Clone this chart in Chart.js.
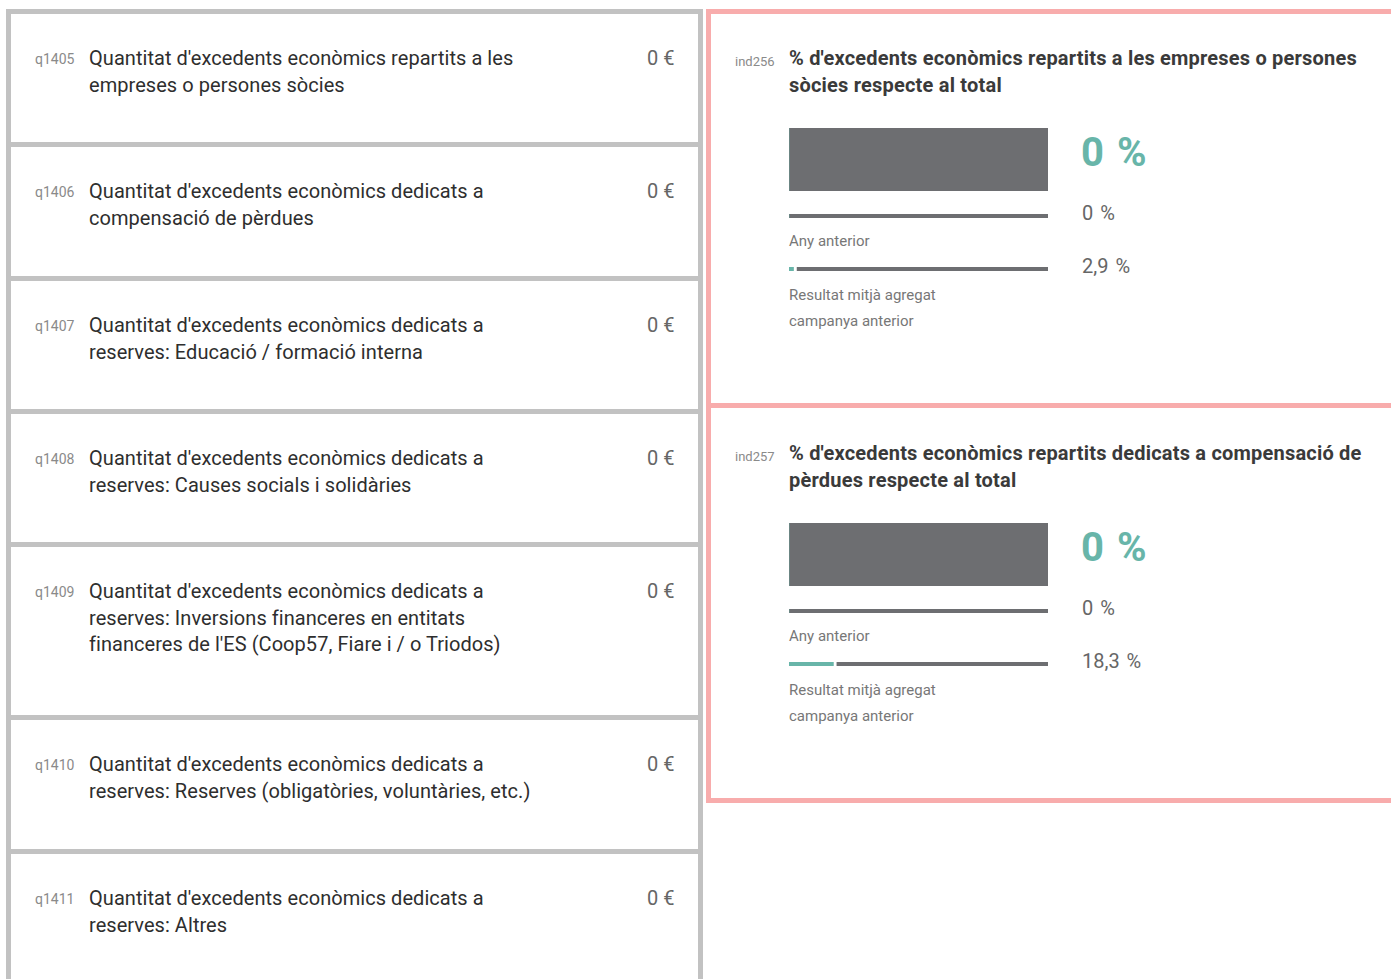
<!DOCTYPE html>
<html lang="ca">
<head>
<meta charset="utf-8">
<script src="https://cdn.jsdelivr.net/npm/chart.js@4/dist/chart.umd.min.js"></script>
<style>
  html, body { margin: 0; padding: 0; background: #fff; overflow: hidden; width: 1391px; height: 979px; }
  body { position: relative; font-family: Roboto, "Noto Sans", sans-serif; }
  .lbox { position: absolute; left: 6px; width: 697px; border: 5px solid #c2c2c2; background: #fff; box-sizing: border-box; }
  .qid { position: absolute; left: 35px; font-size: 14px; color: #8a8a8a; line-height: 27px; }
  .qtxt { position: absolute; left: 89px; font-size: 20px; color: #2e2e2e; line-height: 27px; white-space: nowrap; letter-spacing: 0.05px; }
  .qval { position: absolute; left: 647px; font-size: 20px; color: #666; line-height: 27px; word-spacing: 0px; }
  .rbox { position: absolute; left: 706px; width: 720px; border: 5px solid #f8acac; box-sizing: border-box; background: #fff; }
  .ind { position: absolute; left: 735px; font-size: 13px; color: #8a8a8a; line-height: 27px; }
  .ititle { position: absolute; left: 789px; font-size: 20px; font-weight: 700; color: #3a3a3a; line-height: 27px; white-space: nowrap; letter-spacing: 0.2px; }
  .bigval { position: absolute; left: 1081px; font-size: 40px; font-weight: 700; color: #68b5a9; line-height: 40px; word-spacing: 1px; letter-spacing: 1px; }
  .smallval { position: absolute; left: 1082px; font-size: 20px; color: #666; line-height: 24px; word-spacing: 2px; }
  .lbl { position: absolute; left: 789px; font-size: 15px; color: #777; line-height: 26px; white-space: nowrap; }
</style>
</head>
<body>
<div id="root"></div>
<script>
// ---- data ----
const questionIds = ['q1405', 'q1406', 'q1407', 'q1408', 'q1409', 'q1410', 'q1411'];
const questionTexts = [
  ["Quantitat d'excedents econòmics repartits a les", "empreses o persones sòcies"],
  ["Quantitat d'excedents econòmics dedicats a", "compensació de pèrdues"],
  ["Quantitat d'excedents econòmics dedicats a", "reserves: Educació / formació interna"],
  ["Quantitat d'excedents econòmics dedicats a", "reserves: Causes socials i solidàries"],
  ["Quantitat d'excedents econòmics dedicats a", "reserves: Inversions financeres en entitats", "financeres de l'ES (Coop57, Fiare i / o Triodos)"],
  ["Quantitat d'excedents econòmics dedicats a", "reserves: Reserves (obligatòries, voluntàries, etc.)"],
  ["Quantitat d'excedents econòmics dedicats a", "reserves: Altres"]
];
const questionValues = ['0 €', '0 €', '0 €', '0 €', '0 €', '0 €', '0 €'];

const indicatorIds = ['ind256', 'ind257'];
const indicatorTitles = [
  ["% d'excedents econòmics repartits a les empreses o persones", "sòcies respecte al total"],
  ["% d'excedents econòmics repartits dedicats a compensació de", "pèrdues respecte al total"]
];
const currentValues = [0, 0];
const previousValues = [0, 0];
const averageValues = [2.9, 18.3];
const previousLabel = 'Any anterior';
const averageLabel = ['Resultat mitjà agregat', 'campanya anterior'];

// ---- layout (not data) ----
const boxTops = [9, 142, 276, 409, 542, 715, 849];
const boxHeights = [138, 139, 138, 138, 178, 139, 140];
const TEAL = '#68b5a9';
const GREY = '#6d6e71';

const root = document.getElementById('root');
function el(tag, cls, style, text) {
  const e = document.createElement(tag);
  if (cls) e.className = cls;
  Object.assign(e.style, style || {});
  if (text !== undefined) e.textContent = text;
  root.appendChild(e);
  return e;
}
function fmt(v) { return String(v).replace('.', ',') + ' %'; }

// left boxes
questionIds.forEach((id, i) => {
  const top = boxTops[i];
  el('div', 'lbox', { top: top + 'px', height: boxHeights[i] + 'px' });
  const lineTop = top + 36;
  el('div', 'qid', { top: (lineTop + 1) + 'px' }, id);
  questionTexts[i].forEach((t, j) => {
    el('div', 'qtxt', { top: (lineTop + j * 26.5) + 'px' }, t);
  });
  el('div', 'qval', { top: lineTop + 'px' }, questionValues[i]);
});

// right boxes
const rTops = [9, 403];
rTops.forEach(t => el('div', 'rbox', { top: t + 'px', height: '400px' }));

function barChart(top, height, value) {
  const c = document.createElement('canvas');
  c.width = 259; c.height = height;
  Object.assign(c.style, { position: 'absolute', left: '789px', top: top + 'px', width: '259px', height: height + 'px' });
  root.appendChild(c);
  new Chart(c, {
    type: 'bar',
    data: {
      labels: [''],
      datasets: [
        { data: [value], backgroundColor: TEAL, borderColor: '#ffffff', borderWidth: { right: 3 }, borderSkipped: 'left' },
        { data: [100 - value], backgroundColor: GREY, borderWidth: 0 }
      ]
    },
    options: {
      indexAxis: 'y',
      responsive: false,
      animation: false,
      events: [],
      layout: { padding: 0 },
      datasets: { bar: { barPercentage: 1, categoryPercentage: 1 } },
      scales: {
        x: { stacked: true, min: 0, max: 100, display: false },
        y: { stacked: true, display: false }
      },
      plugins: { legend: { display: false }, tooltip: { enabled: false } }
    }
  });
}

indicatorIds.forEach((id, k) => {
  const o = k * 395;
  el('div', 'ind', { top: (o + 48) + 'px' }, id);
  indicatorTitles[k].forEach((t, j) => el('div', 'ititle', { top: (o + 45 + j * 27) + 'px' }, t));
  barChart(o + 128, 63, currentValues[k]);
  el('div', 'bigval', { top: (o + 133) + 'px' }, fmt(currentValues[k]));
  barChart(o + 214, 4, previousValues[k]);
  el('div', 'smallval', { top: (o + 201) + 'px' }, fmt(previousValues[k]));
  el('div', 'lbl', { top: (o + 228) + 'px' }, previousLabel);
  barChart(o + 267, 4, averageValues[k]);
  el('div', 'smallval', { top: (o + 254) + 'px' }, fmt(averageValues[k]));
  averageLabel.forEach((t, j) => el('div', 'lbl', { top: (o + 282 + j * 26) + 'px' }, t));
});
</script>
</body>
</html>
